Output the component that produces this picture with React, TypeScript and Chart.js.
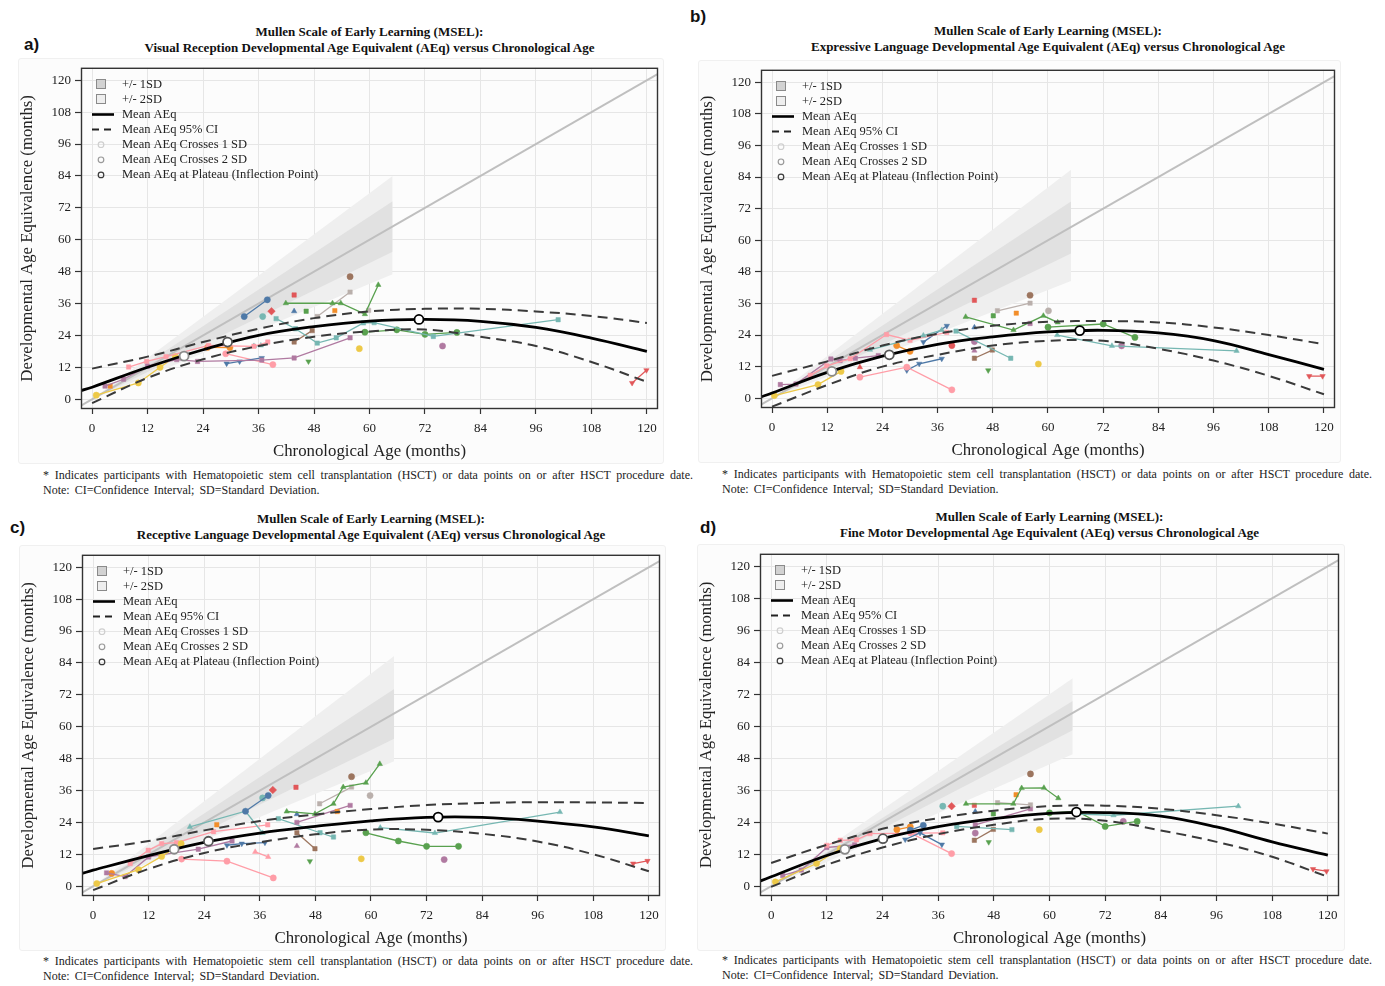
import React, { useEffect, useRef } from 'react';
import { Chart, registerables } from 'chart.js';
Chart.register(...registerables);

const SERIF = "'Liberation Serif', 'Times New Roman', Times, serif";
Chart.defaults.font.family = SERIF;

const COLORS: Record<string, string> = {
  blue: '#4e79a7', orange: '#f28e2b', red: '#e15759', teal: '#76b7b2', green: '#59a14f',
  yellow: '#edc948', purple: '#b07aa1', pink: '#ff9da7', brown: '#9c755f', gray: '#bab0ac',
};

const X_TICKS = [0, 12, 24, 36, 48, 60, 72, 84, 96, 108, 120];
const Y_TICKS = [0, 12, 24, 36, 48, 60, 72, 84, 96, 108, 120];
const X_MIN = -2.4, X_MAX = 122.4, Y_MIN = -3.7, Y_MAX = 124.7;

const LEGEND_LABELS = ['+/- 1SD', '+/- 2SD', 'Mean AEq', 'Mean AEq 95% CI', 'Mean AEq Crosses 1 SD', 'Mean AEq Crosses 2 SD', 'Mean AEq at Plateau (Inflection Point)'];
const MAIN_TITLE = 'Mullen Scale of Early Learning (MSEL):';
const FOOT1 = '* Indicates participants with Hematopoietic stem cell transplantation (HSCT) or data points on or after HSCT procedure date.';
const FOOT2 = 'Note: CI=Confidence Interval; SD=Standard Deviation.';
const X_TITLE = 'Chronological Age (months)';
const Y_TITLE = 'Developmental Age Equivalence (months)';

// curves
const meanX = [-2.4, 0, 12, 24, 36, 48, 60, 72, 84, 96, 108, 120];
const ciX = [0, 12, 24, 36, 48, 60, 72, 84, 96, 108, 120];
const bandX = [0, 65];
const diagX = [-2.4, 122.4];

const meanA = [3.2, 4.5, 12, 18.6, 24, 27.3, 29.4, 30, 29.3, 27, 23, 18];
const ciUpperA = [11.5, 16, 21.5, 26.5, 30.5, 33, 34, 34, 33, 31.3, 28.7];
const ciLowerA = [-1.5, 8, 15, 20, 23.5, 25.5, 26.2, 23.5, 20, 14, 6.5];
const sd2UpA = [0, 84], sd1UpA = [0, 74.5], sd1LoA = [0, 55.5], sd2LoA = [0, 47];
const markA = [[19.9, 16.2], [29.3, 21.5], [70.7, 30]];

const meanB = [0.5, 2, 9.8, 16, 20.5, 23.3, 25.2, 25.8, 24.8, 21.9, 16.6, 11];
const ciUpperB = [8.5, 14, 20, 24.5, 27.5, 29, 29.3, 28.8, 26.9, 24, 20.5];
const ciLowerB = [-3.2, 5, 12, 16.5, 20, 21.8, 21.8, 18.8, 14.3, 8.5, 1.5];
const sd2UpB = [0, 86.8], sd1UpB = [0, 74.7], sd1LoB = [0, 55], sd2LoB = [0, 44.5];
const markB = [[13, 10.2], [25.5, 16.5], [66.9, 25.7]];

const meanC = [4.8, 6, 11.5, 16.5, 20, 22.5, 24.6, 25.9, 25.9, 24.5, 22.3, 18.9];
const ciUpperC = [14, 17, 21, 24.5, 27, 29, 30.5, 31.3, 31.6, 31.5, 31.3];
const ciLowerC = [-1.5, 6.5, 12.5, 16.5, 19.5, 21.3, 21.2, 19.7, 16.8, 12, 5.6];
const sd2UpC = [0, 86.6], sd1UpC = [0, 74.2], sd1LoC = [0, 55.5], sd2LoC = [0, 47];
const markC = [[17.5, 13.9], [24.9, 16.9], [74.5, 26]];

const meanD = [1.9, 3.5, 11.5, 17.8, 22.3, 25.3, 27.3, 27.6, 26.3, 22.2, 16.6, 11.6];
const ciUpperD = [8.7, 15.5, 21.5, 25.5, 28.3, 30, 30.2, 29, 26.6, 23.5, 19.7];
const ciLowerD = [-0.3, 8, 14.5, 19.5, 23, 25.3, 24.5, 20.9, 16.6, 11, 3.5];
const sd2UpD = [0, 78], sd1UpD = [0, 69.5], sd1LoD = [0, 58.5], sd2LoD = [0, 49.5];
const markD = [[15.9, 13.8], [24.1, 17.8], [65.8, 27.8]];

type P = [string, string, number[][]];

const partA: P[] = [
  ['blue', 'o', [[32.9, 31.1], [37.9, 37.4]]],
  ['teal', 'o', [[36.9, 31.1]]],
  ['red', 'd', [[38.8, 33.1]]],
  ['red', 's', [[43.7, 39.2]]],
  ['blue', '^', [[43.7, 33.1]]],
  ['green', '^', [[41.9, 36.1], [52, 36.1], [53.8, 36.1], [59, 32], [61.9, 43]]],
  ['green', 's', [[46.3, 33.1]]],
  ['gray', 's', [[48.7, 31.1], [55.8, 40.3]]],
  ['gray', 's', [[59.8, 33.4]]],
  ['brown', 'o', [[55.8, 46.1]]],
  ['orange', 's', [[52.5, 33.3]]],
  ['teal', 's', [[39.8, 30.3], [44, 26.5], [48.7, 21.1], [52.8, 23.1], [58.7, 28.7], [61, 28.8], [73.8, 23.6], [100.8, 29.9]]],
  ['green', 'o', [[59, 25.2], [65.9, 26.1], [72, 24.4], [78.9, 25.1]]],
  ['purple', 'o', [[75.8, 20]]],
  ['red', 'v', [[116.8, 6.1], [119.9, 10.9]]],
  ['purple', 's', [[2.8, 4.9], [6.8, 7.5], [12, 12.4], [18.3, 14.9], [22.8, 14.2], [36.7, 14.7], [43.7, 15.5], [55.8, 23.1]]],
  ['blue', 'v', [[29.1, 13.4], [31.9, 14.2], [36.7, 15.5]]],
  ['pink', 'o', [[28.9, 17.1], [39.1, 13]]],
  ['pink', 's', [[7.9, 12.1], [11.8, 14.2], [16, 16], [25.2, 20.2], [35, 19.9], [38, 21.5]]],
  ['orange', 's', [[3.9, 4.9]]],
  ['orange', 'o', [[25, 19.5], [29.8, 19.4]]],
  ['yellow', 'o', [[0.9, 1.5], [10, 6.1], [14.7, 12], [18, 16]]],
  ['yellow', 'o', [[57.8, 19]]],
  ['green', 'v', [[46.8, 14.2]]],
  ['brown', 's', [[43.7, 21.5], [47.6, 25.8]]],
  ['teal', '^', [[35, 20], [36.5, 20.2]]],
];

const partB: P[] = [
  ['red', 's', [[44, 37.2]]],
  ['gray', 's', [[49, 33.2], [56.1, 36.1]]],
  ['brown', 'o', [[56.1, 39.1]]],
  ['orange', 's', [[53.1, 32.3]]],
  ['green', '^', [[42.1, 30.9], [52.5, 25.9], [59, 31.3], [62.1, 28.8]]],
  ['green', 's', [[48.1, 31.3]]],
  ['gray', 'o', [[60.1, 33.2]]],
  ['purple', 's', [[56.1, 28.4]]],
  ['green', 'o', [[60, 27], [72, 28.2], [78.9, 23.1]]],
  ['teal', 's', [[40, 25.5], [51.9, 15.2]]],
  ['teal', '^', [[21.3, 18.4], [32.9, 23.8], [36.9, 25.9]]],
  ['teal', '^', [[62, 24], [73.9, 19.9], [101, 18]]],
  ['purple', 'o', [[76, 19.9]]],
  ['red', 'v', [[116.8, 8.4], [119.7, 8.4]]],
  ['pink', 's', [[8.3, 8.7], [11.9, 12.3], [17, 15], [24.9, 24.2], [30, 22], [38, 25]]],
  ['pink', 'o', [[19.1, 8], [29.3, 11.8], [39.1, 3.2]]],
  ['blue', 'v', [[29.3, 10.6], [32, 13.1], [36.9, 15]]],
  ['blue', 'v', [[32.9, 21.3], [38, 27.5]]],
  ['orange', 'o', [[27.1, 20], [30, 17.8]]],
  ['red', 'o', [[39.1, 20]]],
  ['red', '^', [[19.1, 11.8]]],
  ['brown', 's', [[44, 15.2], [47.9, 18.3]]],
  ['purple', '^', [[44, 18.1]]],
  ['purple', 'o', [[44, 21.5]]],
  ['yellow', 'o', [[57.9, 13]]],
  ['yellow', 'o', [[0.5, 1], [10, 5.2], [15, 10.2]]],
  ['green', 'v', [[47, 10.6]]],
  ['purple', 's', [[1.8, 5.2], [5.2, 5.4], [12.8, 14.9], [14.8, 14.3], [18.1, 15.2], [23.1, 16.2]]],
  ['blue', '^', [[44, 26.9]]],
];

const partC: P[] = [
  ['green', '^', [[41.8, 28.1], [47.9, 27.2], [51.9, 31], [54, 37.3], [58.9, 38.9], [61.9, 46]]],
  ['gray', 's', [[48.9, 31], [55.8, 37.3]]],
  ['brown', 'o', [[55.8, 41.2]]],
  ['gray', 'o', [[59.8, 34.1]]],
  ['orange', 's', [[26.7, 23.1]]],
  ['orange', 's', [[52.7, 28.1]]],
  ['purple', 's', [[44, 24], [55.5, 30.4]]],
  ['red', 'd', [[38.8, 36.2]]],
  ['red', 's', [[43.8, 37.2]]],
  ['blue', 'o', [[32.9, 28.2], [37.8, 34.1]]],
  ['teal', 'o', [[36.6, 33.2]]],
  ['teal', '^', [[20.9, 22.3], [32.9, 28.2], [36.6, 20]]],
  ['blue', 'v', [[28.9, 15.4], [32.1, 16], [37.1, 16.4]]],
  ['teal', 's', [[40, 25.4], [49, 20.1], [51.9, 18.5]]],
  ['brown', 's', [[44, 20.1], [47.9, 14.1]]],
  ['purple', '^', [[44, 15.1]]],
  ['blue', '^', [[44, 27.1]]],
  ['green', 'o', [[58.9, 20.1], [65.9, 17], [72, 15], [78.9, 15]]],
  ['teal', '^', [[62, 22], [73.8, 20], [100.8, 27.9]]],
  ['purple', 'o', [[75.8, 10]]],
  ['red', 'v', [[116.6, 8.5], [119.7, 9.5]]],
  ['yellow', 'o', [[57.9, 10.3]]],
  ['yellow', 'o', [[0.8, 1], [9.8, 6.2], [14.8, 11.2], [19, 16]]],
  ['green', 'v', [[46.8, 9.4]]],
  ['pink', 'o', [[19.1, 10.2], [28.9, 9.4], [38.9, 3.1]]],
  ['pink', '^', [[35, 12.9], [37.8, 11]]],
  ['pink', 's', [[8, 8.5], [11.9, 13.5], [14.8, 16], [18, 16.4], [26, 20.5], [37.7, 23.1]]],
  ['purple', 's', [[2.9, 5], [6.9, 3.6], [12, 11], [22.7, 13.9], [30, 17]]],
  ['orange', 'o', [[4, 4.8]]],
];

const partD: P[] = [
  ['brown', 'o', [[55.9, 42.1]]],
  ['green', '^', [[42, 30.9], [52.2, 30.9], [54, 36.8], [58.8, 36.9], [61.9, 33]]],
  ['orange', 's', [[52.8, 34.3]]],
  ['gray', 's', [[48.8, 31.3], [55.9, 30.5]]],
  ['teal', 'o', [[37, 30]]],
  ['red', 'd', [[38.9, 30]]],
  ['red', 's', [[43.8, 30.3]]],
  ['green', 's', [[47.9, 27.1]]],
  ['purple', 's', [[44, 23], [55.9, 29]]],
  ['blue', 'o', [[30, 21], [32.8, 22.8]]],
  ['teal', 's', [[40, 22.4], [51.9, 21.2]]],
  ['brown', 's', [[43.8, 17.2], [47.9, 21.3]]],
  ['purple', 'o', [[44, 19.9]]],
  ['yellow', 'o', [[57.8, 21.2]]],
  ['green', 'v', [[46.9, 16.5]]],
  ['blue', 'v', [[28.9, 17.5], [32.1, 20], [36.8, 15.6]]],
  ['pink', 'o', [[30, 20], [38.9, 12.2]]],
  ['orange', 'o', [[27.1, 21.2], [30, 22.2]]],
  ['yellow', 'o', [[0.9, 1.6], [9.8, 8.5], [14.9, 14.1]]],
  ['pink', 's', [[12, 15.3], [14.9, 17.2], [18.4, 17.4], [21.3, 19.7], [37, 20]]],
  ['teal', '^', [[66, 27], [73.8, 26.6], [100.7, 30]]],
  ['green', 'o', [[60, 27.5], [66, 28], [72, 22.4], [78.9, 24.3]]],
  ['purple', 'o', [[75.9, 24.3]]],
  ['red', 'v', [[116.8, 6.4], [119.7, 5.6]]],
  ['purple', 's', [[2.5, 4], [6.5, 6], [12, 14.5], [18, 15.5]]],
  ['blue', '^', [[44, 28]]],
];

type Panel = {
  label: string; labelPos: number[]; subtitle: string; area: number[]; titleTop: number;
  footLeft: number; footTop: number;
  mean: number[]; ciU: number[]; ciL: number[]; bands: number[][]; marks: number[][]; parts: P[];
};

const PANELS: Panel[] = [
  { label: 'a)', labelPos: [24, 35], subtitle: 'Visual Reception Developmental Age Equivalent (AEq) versus Chronological Age', area: [81, 66, 658, 409], titleTop: 24, footLeft: 43, footTop: 468, mean: meanA, ciU: ciUpperA, ciL: ciLowerA, bands: [sd2UpA, sd2LoA, sd1UpA, sd1LoA], marks: markA, parts: partA },
  { label: 'b)', labelPos: [690, 7], subtitle: 'Expressive Language Developmental Age Equivalent (AEq) versus Chronological Age', area: [761, 68, 1335, 408], titleTop: 23, footLeft: 722, footTop: 467, mean: meanB, ciU: ciUpperB, ciL: ciLowerB, bands: [sd2UpB, sd2LoB, sd1UpB, sd1LoB], marks: markB, parts: partB },
  { label: 'c)', labelPos: [10, 518], subtitle: 'Receptive Language Developmental Age Equivalent (AEq) versus Chronological Age', area: [82, 553, 660, 896], titleTop: 511, footLeft: 43, footTop: 954, mean: meanC, ciU: ciUpperC, ciL: ciLowerC, bands: [sd2UpC, sd2LoC, sd1UpC, sd1LoC], marks: markC, parts: partC },
  { label: 'd)', labelPos: [700, 518], subtitle: 'Fine Motor Developmental Age Equivalent (AEq) versus Chronological Age', area: [760, 552, 1339, 896], titleTop: 509, footLeft: 722, footTop: 953, mean: meanD, ciU: ciUpperD, ciL: ciLowerD, bands: [sd2UpD, sd2LoD, sd1UpD, sd1LoD], marks: markD, parts: partD },
];

const Y_AXIS_W = 72, X_AXIS_H = 55, PAD_T = 10, PAD_R = 10;

const SHAPES: Record<string, [string, number]> = {
  o: ['circle', 0], s: ['rect', 0], '^': ['triangle', 0], v: ['triangle', 180], d: ['rectRot', 0],
};

const xy = (xs: number[], ys: number[]) => xs.map((x, i) => ({ x, y: ys[i] }));

const framePlugin = {
  id: 'frameLegend',
  afterDraw(chart: any) {
    const { ctx, chartArea: a } = chart;
    ctx.save();
    ctx.strokeStyle = '#333';
    ctx.lineWidth = 1.4;
    ctx.strokeRect(a.left + 0.5, a.top + 0.5, a.right - a.left - 1, a.bottom - a.top - 1);
    const L = a.left, T = a.top;
    const rowY = (i: number) => T + 16.5 + i * 15.1;
    ctx.font = `12.5px ${SERIF}`;
    ctx.fillStyle = '#222';
    ctx.textBaseline = 'middle';
    ctx.textAlign = 'left';
    LEGEND_LABELS.forEach((t, i) => ctx.fillText(t, L + 41, rowY(i)));
    const sx = L + 20;
    ctx.lineWidth = 1;
    ctx.fillStyle = '#d2d2d2'; ctx.strokeStyle = '#8a8a8a';
    ctx.fillRect(sx - 4, Math.round(rowY(0)) - 4, 8, 8);
    ctx.strokeRect(sx - 4.5, Math.round(rowY(0)) - 4.5, 9, 9);
    ctx.fillStyle = '#eeeeee';
    ctx.fillRect(sx - 4, Math.round(rowY(1)) - 4, 8, 8);
    ctx.strokeRect(sx - 4.5, Math.round(rowY(1)) - 4.5, 9, 9);
    ctx.strokeStyle = '#000'; ctx.lineWidth = 2.6;
    ctx.beginPath(); ctx.moveTo(L + 11, rowY(2)); ctx.lineTo(L + 33, rowY(2)); ctx.stroke();
    ctx.strokeStyle = '#222'; ctx.lineWidth = 2; ctx.setLineDash([7, 5]);
    ctx.beginPath(); ctx.moveTo(L + 11, rowY(3)); ctx.lineTo(L + 33, rowY(3)); ctx.stroke();
    ctx.setLineDash([]);
    const cc = ['#cfcfcf', '#9a9a9a', '#3a3a3a'];
    cc.forEach((c, k) => {
      ctx.strokeStyle = c; ctx.lineWidth = 1.2;
      ctx.beginPath(); ctx.arc(sx, rowY(4 + k), 2.8, 0, Math.PI * 2); ctx.stroke();
    });
    ctx.restore();
  },
};

function PanelChart({ p }: { p: Panel }) {
  const ref = useRef<HTMLCanvasElement>(null);
  const [l, t, r, b] = p.area;
  const W = r - l + Y_AXIS_W + PAD_R;
  const H = b - t + PAD_T + X_AXIS_H;
  useEffect(() => {
    const bandDs = (ys: number[], fill: any, color: string, order: number) => ({
      data: xy(bandX, ys), borderWidth: 0, pointRadius: 0, fill, backgroundColor: color, order, tension: 0,
    });
    const datasets: any[] = [
      bandDs(p.bands[0], '+1', '#efefef', 100),
      bandDs(p.bands[1], false, 'transparent', 99),
      bandDs(p.bands[2], '+1', '#e1e1e1', 98),
      bandDs(p.bands[3], false, 'transparent', 97),
      { data: xy(diagX, diagX), borderColor: '#bfbfbf', borderWidth: 2, pointRadius: 0, order: 90, fill: false },
    ];
    p.parts.forEach(([c, s, pts]) => {
      const [style, rot] = SHAPES[s];
      datasets.push({
        data: pts.map(([x, y]) => ({ x, y })), borderColor: COLORS[c], backgroundColor: COLORS[c],
        borderWidth: 1.3, pointRadius: s === 'd' ? 3.8 : 3.1, pointStyle: style, pointRotation: rot,
        pointBorderWidth: 0.5, order: 50, fill: false, tension: 0,
      });
    });
    datasets.push(
      { data: xy(ciX, p.ciU), borderColor: '#3a3a3a', borderWidth: 2, borderDash: [10, 6], pointRadius: 0, tension: 0.4, order: 20, fill: false },
      { data: xy(ciX, p.ciL), borderColor: '#3a3a3a', borderWidth: 2, borderDash: [10, 6], pointRadius: 0, tension: 0.4, order: 20, fill: false },
      { data: xy(meanX, p.mean), borderColor: '#000', borderWidth: 2.8, pointRadius: 0, tension: 0.4, order: 10, fill: false },
      {
        data: p.marks.map(([x, y]) => ({ x, y })), showLine: false, pointRadius: 4.5, pointBorderWidth: 1.8,
        pointBackgroundColor: '#fff', pointBorderColor: ['#8a8a8a', '#555', '#000'], order: 0,
      },
    );
    const chart = new Chart(ref.current as HTMLCanvasElement, {
      type: 'line',
      data: { datasets },
      options: {
        animation: false, responsive: false, devicePixelRatio: 1, events: [],
        layout: { padding: { left: 0, top: PAD_T, right: PAD_R, bottom: 0 } },
        plugins: { legend: { display: false }, tooltip: { enabled: false } },
        scales: {
          x: {
            type: 'linear', min: X_MIN, max: X_MAX,
            afterBuildTicks: (s: any) => { s.ticks = X_TICKS.map((v) => ({ value: v })); },
            afterFit: (s: any) => { s.height = X_AXIS_H; },
            grid: { color: '#e6e6e6', lineWidth: 1, drawTicks: true, tickLength: 5, tickColor: '#333', tickWidth: 1.2 },
            border: { display: false },
            ticks: { color: '#222', font: { size: 13 }, padding: 7, maxRotation: 0, autoSkip: false },
            title: { display: true, text: X_TITLE, color: '#222', font: { size: 16.8 }, padding: { top: 0, bottom: 2 } },
          },
          y: {
            type: 'linear', min: Y_MIN, max: Y_MAX,
            afterBuildTicks: (s: any) => { s.ticks = Y_TICKS.map((v) => ({ value: v })); },
            afterFit: (s: any) => { s.width = Y_AXIS_W; },
            grid: { color: '#e6e6e6', lineWidth: 1, drawTicks: true, tickLength: 6, tickColor: '#333', tickWidth: 1.2 },
            border: { display: false },
            ticks: { color: '#222', font: { size: 13 }, padding: 4, autoSkip: false },
            title: { display: true, text: Y_TITLE, color: '#222', font: { size: 16.8 }, padding: { top: 9, bottom: 0 } },
          },
        },
      } as any,
      plugins: [framePlugin],
    });
    return () => chart.destroy();
  }, []);
  return (
    <canvas ref={ref} width={W} height={H}
      style={{ position: 'absolute', left: l - Y_AXIS_W, top: t - PAD_T, width: W, height: H }} />
  );
}

function PanelBlock({ p }: { p: Panel }) {
  const [l, t, r, b] = p.area;
  return (
    <>
      <div style={{ position: 'absolute', left: l - 63, top: t - 8, width: r - l + 67, height: b - t + 61, background: '#fcfcfc', border: '1px solid #f0f0f0', borderRadius: 3 }} />
      <div style={{ position: 'absolute', left: p.labelPos[0], top: p.labelPos[1], font: "bold 17px 'Liberation Sans', Arial, sans-serif", color: '#111' }}>{p.label}</div>
      <div style={{ position: 'absolute', left: l - 20, top: p.titleTop, width: r - l + 40, textAlign: 'center', font: `bold 13px/16px ${SERIF}`, color: '#111' }}>
        <div>{MAIN_TITLE}</div>
        <div>{p.subtitle}</div>
      </div>
      <PanelChart p={p} />
      <div style={{ position: 'absolute', left: p.footLeft, top: p.footTop, width: 650, font: `12px/15px ${SERIF}`, color: '#222' }}>
        <div style={{ textAlign: 'justify', textAlignLast: 'justify' as any }}>{FOOT1}</div>
        <div style={{ wordSpacing: 2 }}>{FOOT2}</div>
      </div>
    </>
  );
}

export default function App() {
  return (
    <div style={{ position: 'absolute', left: 0, top: 0, width: 1385, height: 986, background: '#fff', overflow: 'hidden' }}>
      {PANELS.map((p, i) => <PanelBlock key={i} p={p} />)}
    </div>
  );
}
